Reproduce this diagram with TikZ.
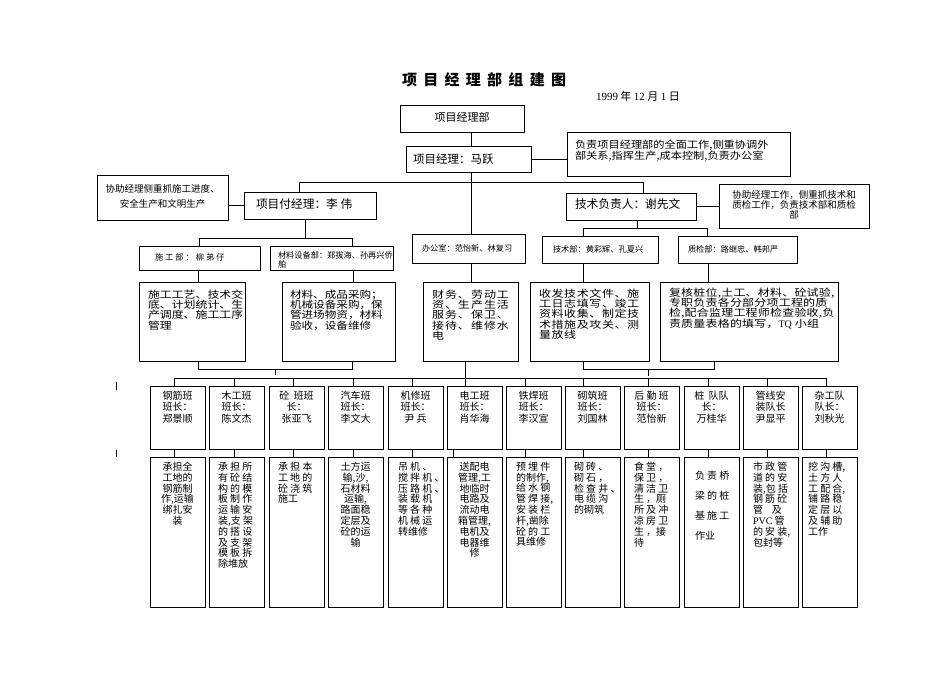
\documentclass[tikz,border=0pt]{standalone}
\usepackage{fontspec}
\setmainfont{Noto Sans CJK SC}
\newfontfamily\lat{Liberation Serif}
\usetikzlibrary{calc}
\newcommand\fs[2]{\fontsize{#1}{#2}\selectfont\lineskiplimit=-30pt\lineskip=0pt\relax}
\newcommand\bx[5]{\node[box, minimum width={(#4)-(#2)}, minimum height={(#5)-(#3)}, anchor=north west] (#1) at (#2,#3) {};}
\begin{document}
\begin{tikzpicture}[x=1pt,y=-1pt,
  box/.style={draw=black, line width=0.9pt, inner sep=0pt, outer sep=0pt, fill=white},
  t/.style={inner sep=0pt, outer sep=0pt, text=black},
  ln/.style={draw=black, line width=0.9pt}]
\useasboundingbox (0,0) rectangle (950,672);
% title and date
\node[t, anchor=west, font={\fs{15}{16}\bfseries\addfontfeature{LetterSpace=42}}] (title) at (402,80) {项目经理部组建图};
\node[t, anchor=west, font=\fs{11}{12}] (date) at (596,96) {{\lat 1999} 年 {\lat 12} 月 {\lat 1} 日};
% boxes
\bx{pm0}{400}{105}{524}{132}
\bx{pm}{406}{146}{531}{172}
\bx{pmd}{567}{132}{790}{176}
\bx{vpmd}{97}{175}{228}{220}
\bx{vpm}{244}{192}{376}{219}
\bx{tech}{566}{193}{696}{220}
\bx{techd}{719}{184}{869}{228}
\bx{sg}{139}{246}{260}{270}
\bx{cl}{270}{246}{393}{270}
\bx{bgs}{412}{234}{525}{263}
\bx{js}{542}{236}{658}{263}
\bx{zj}{678}{236}{797}{263}
\bx{A}{139}{282}{245}{361}
\bx{B}{282}{282}{395}{361}
\bx{C}{423}{282}{518}{361}
\bx{D}{530}{282}{649}{361}
\bx{E}{660}{282}{838}{361}
% texts
\node[t, font=\fs{11}{12}] (pm0t) at (462,117) {项目经理部};
\node[t, anchor=west, font=\fs{11.5}{12}] (pmt) at (413,159) {项目经理：马跃};
\node[t, anchor=north west, align=left, font={\fs{10}{10.5}\addfontfeature{FakeStretch=1.12}}] (pmdt) at (575,140) {负责项目经理部的全面工作,侧重协调外\\部关系,指挥生产,成本控制,负责办公室};
\node[t, align=center, font=\fs{9.5}{15}] (vpmdt) at (162.5,196) {协助经理侧重抓施工进度、\\安全生产和文明生产};
\node[t, anchor=west, font=\fs{11.7}{12}] (vpmt) at (256,204) {项目付经理：李 伟};
\node[t, anchor=west, font=\fs{11.7}{12}] (techt) at (575,204) {技术负责人：谢先文};
\node[t, align=center, font=\fs{9.5}{10.3}] (techdt) at (794,205) {协助经理工作，侧重抓技术和\\质检工作，负责技术部和质检\\部};
\node[t, anchor=west, font={\fs{8.2}{9}\addfontfeature{LetterSpace=25}}] (sgt) at (155,257) {施工部：柳弟仔};
\node[t, anchor=north west, align=left, font=\fs{8.2}{9}] (clt) at (278,252) {材料设备部：郑拔海、孙再兴侨\\舶};
\node[t, anchor=west, font=\fs{8.2}{9}] (bgst) at (422,248) {办公室：范怡新、林复习};
\node[t, anchor=west, font=\fs{8.2}{9}] (jst) at (553,249) {技术部：黄彩辉、孔夏兴};
\node[t, anchor=west, font=\fs{8.2}{9}] (zjt) at (688,249) {质检部：路继忠、韩邦严};
\node[t, anchor=north west, align=left, font={\fs{10}{10.2}\addfontfeature{FakeStretch=1.19}}] (At) at (148,290) {施工工艺、技术交\\底、计划统计、生\\产调度、施工工序\\管理};
\node[t, anchor=north west, align=left, font={\fs{10}{10.2}\addfontfeature{FakeStretch=1.16}}] (Bt) at (290,290) {材料、成品采购；\\机械设备采购，保\\管进场物资，材料\\验收，设备维修};
\node[t, anchor=north west, align=left, font={\fs{10}{10.2}\addfontfeature{FakeStretch=1.2,LetterSpace=10}}] (Ct) at (432,290) {财务、劳动工\\资、生产生活\\服务、保卫、\\接待、维修水\\电};
\node[t, anchor=north west, align=left, font={\fs{10}{10.2}\addfontfeature{FakeStretch=1.2,LetterSpace=6}}] (Dt) at (539,289) {收发技术文件、施\\工日志填写、竣工\\资料收集、制定技\\术措施及攻关、测\\量放线};
\node[t, anchor=north west, align=left, font={\fs{10}{10.2}\addfontfeature{FakeStretch=1.2,LetterSpace=2}}] (Et) at (669,288) {复核桩位,土工、材料、砼试验,\\专职负责各分部分项工程的质\\检,配合监理工程师检查验收,负\\责质量表格的填写，{\lat TQ} 小组};
% connectors top
\coordinate (tx) at (471,0);
\draw[ln] (pm0.south -| tx) -- (pm.north -| tx);
\draw[ln] (pm.east) -- (pm.east -| pmd.west);
\draw[ln] (pm.south -| tx) -- (bgs.north -| tx);
\coordinate (j1) at (299,182);
\coordinate (j2) at (643,182);
\draw[ln] (vpm.north -| j1) -- (j1) -- (j2) -- (tech.north -| j2);
\draw[ln] (vpm.west) -- (vpm.west -| vpmd.east);
\draw[ln] (tech.east) -- (tech.east -| techd.west);
\coordinate (j3) at (305,238);
\coordinate (j4) at (199,238);
\coordinate (j5) at (352,238);
\draw[ln] (vpm.south -| j3) -- (j3);
\draw[ln] (sg.north -| j4) -- (j4) -- (j5) -- (cl.north -| j5);
\coordinate (j6) at (637,228);
\coordinate (j7) at (583,228);
\coordinate (j8) at (707,228);
\draw[ln] (tech.south -| j6) -- (j6);
\draw[ln] (js.north -| j7) -- (j7) -- (j8) -- (zj.north -| j8);
% dept -> description
\coordinate (k1) at (198,0);
\coordinate (k2) at (353,0);
\coordinate (k4) at (583,0);
\coordinate (k5) at (708,0);
\draw[ln] (sg.south -| k1) -- (A.north -| k1);
\draw[ln] (cl.south -| k2) -- (B.north -| k2);
\draw[ln] (bgs.south -| tx) -- (C.north -| tx);
\draw[ln] (js.south -| k4) -- (D.north -| k4);
\draw[ln] (zj.south -| k5) -- (E.north -| k5);
% lower brackets
\coordinate (m1) at (198,369);
\coordinate (m2) at (352,369);
\coordinate (m3) at (275,369);
\coordinate (m3b) at (275,375);
\draw[ln] (A.south -| m1) -- (m1) -- (m2) -- (B.south -| m2);
\draw[ln] (m3) -- (m3b);
\coordinate (m4) at (583,369);
\coordinate (m5) at (714,369);
\coordinate (m6) at (648,369);
\coordinate (m6b) at (648,376);
\draw[ln] (D.south -| m4) -- (m4) -- (m5) -- (E.south -| m5);
\draw[ln] (m6) -- (m6b);
% team boxes
\foreach \i/\x/\ct/\cb in {1/150/174/174, 2/209/234/234, 3/269/293/293, 4/328/353/353, 5/388/412/412, 6/447/465/453, 7/506/525/525, 8/565/583/583, 9/624/648/648, 10/684/708/708, 11/743/767/767, 12/802/826/826}{
  \node[box, minimum width=55, minimum height=63, anchor=north west] (tm\i) at (\x,386) {};
  \node[box, minimum width=55, minimum height=150, anchor=north west] (wk\i) at (\x,457) {};
  \coordinate (ct\i) at (\ct,378);
  \coordinate (cb\i) at (\cb,0);
  \draw[ln] (ct\i) -- (tm\i.north -| ct\i);
  \draw[ln] (tm\i.south -| cb\i) -- (wk\i.north -| cb\i);
}
\draw[ln] (ct1) -- (ct12);
\draw[ln] (C.south -| ct6) -- (ct6);
% stray marks
\draw[ln] (116,382) -- (116,390);
\draw[ln] (116,450) -- (116,457);
% team texts
\tikzset{tt/.style={t, anchor=north, align=center, font=\fs{10}{11.5}}}
\node[tt] (tm1t) at (tm1.north |- 0,391) {钢筋班\\班长：\\郑景顺};
\node[tt] (tm2t) at (tm2.north |- 0,391) {木工班\\班长：\\陈文杰};
\node[tt] (tm3t) at (tm3.north |- 0,391) {砼\ \ 班班\\长：\\张亚飞};
\node[tt] (tm4t) at (tm4.north |- 0,391) {汽车班\\班长：\\李文大};
\node[tt] (tm5t) at (tm5.north |- 0,391) {机修班\\班长：\\尹\ 兵};
\node[tt] (tm6t) at (tm6.north |- 0,391) {电工班\\班长：\\肖华海};
\node[tt] (tm7t) at (tm7.north |- 0,391) {铁焊班\\班长：\\李汉宣};
\node[tt] (tm8t) at (tm8.north |- 0,391) {砌筑班\\班长：\\刘国林};
\node[tt] (tm9t) at (tm9.north |- 0,391) {后 勤 班\\班长：\\范怡新};
\node[tt] (tm10t) at (tm10.north |- 0,391) {桩\ \ 队队\\长：\\万桂华};
\node[tt] (tm11t) at (tm11.north |- 0,391) {管线安\\装队长\\尹显平};
\node[tt] (tm12t) at (tm12.north |- 0,391) {杂工队\\队长：\\刘秋光};
% work texts
\tikzset{wc/.style={t, anchor=north, align=center, font=\fs{10}{10.8}},
         wl/.style={t, anchor=north west, align=left, font=\fs{10}{10.8}}}
\node[wc] (wk1t) at (wk1.north |- 0,462) {承担全\\工地的\\钢筋制\\作,运输\\绑扎安\\装};
\node[wl] (wk2t) at ($(wk2.north west)+(9,5)$) {承 担 所\\有 砼 结\\构 的 模\\板 制 作\\运 输 安\\装,支 架\\的 搭 设\\及 支 架\\模 板 拆\\除堆放};
\node[wl] (wk3t) at ($(wk3.north west)+(9,5)$) {承 担 本\\工 地 的\\砼 浇 筑\\施工};
\node[wc] (wk4t) at (wk4.north |- 0,462) {土方运\\输,沙,\\石材料\\运输,\\路面稳\\定层及\\砼的运\\输};
\node[wl] (wk5t) at ($(wk5.north west)+(10,5)$) {吊 机 、\\搅 拌 机 、\\压 路 机 、\\装 载 机\\等 各 种\\机 械 运\\转维修};
\node[wc] (wk6t) at (wk6.north |- 0,462) {送配电\\管理,工\\地临时\\电路及\\流动电\\箱管理,\\电机及\\电器维\\修};
\node[wl] (wk7t) at ($(wk7.north west)+(10,5)$) {预 埋 件\\的制作,\\给 水 钢\\管 焊 接,\\安 装 栏\\杆,凿除\\砼 的 工\\具维修};
\node[wl] (wk8t) at ($(wk8.north west)+(9,5)$) {砌 砖 、\\砌 石 ，\\检 查 井 、\\电 缆 沟\\的砌筑};
\node[wl] (wk9t) at ($(wk9.north west)+(10,5)$) {食 堂 ，\\保 卫 ，\\清 洁 卫\\生 ，厕\\所 及 冲\\凉 房 卫\\生 ，接\\待};
\node[t, anchor=north west, align=left, font=\fs{10}{20}] (wk10t) at ($(wk10.north west)+(11,14)$) {负 责 桥\\梁 的 桩\\基 施 工\\作业};
\node[wl] (wk11t) at ($(wk11.north west)+(10,5)$) {市 政 管\\道 的 安\\装,包 括\\钢 筋 砼\\管\ \ \ \ 及\\{\lat PVC} 管\\的 安 装,\\包封等};
\node[wl] (wk12t) at ($(wk12.north west)+(6,5)$) {挖 沟 槽,\\土 方 人\\工 配 合,\\铺 路 稳\\定 层 以\\及 辅 助\\工作};
\end{tikzpicture}
\end{document}
